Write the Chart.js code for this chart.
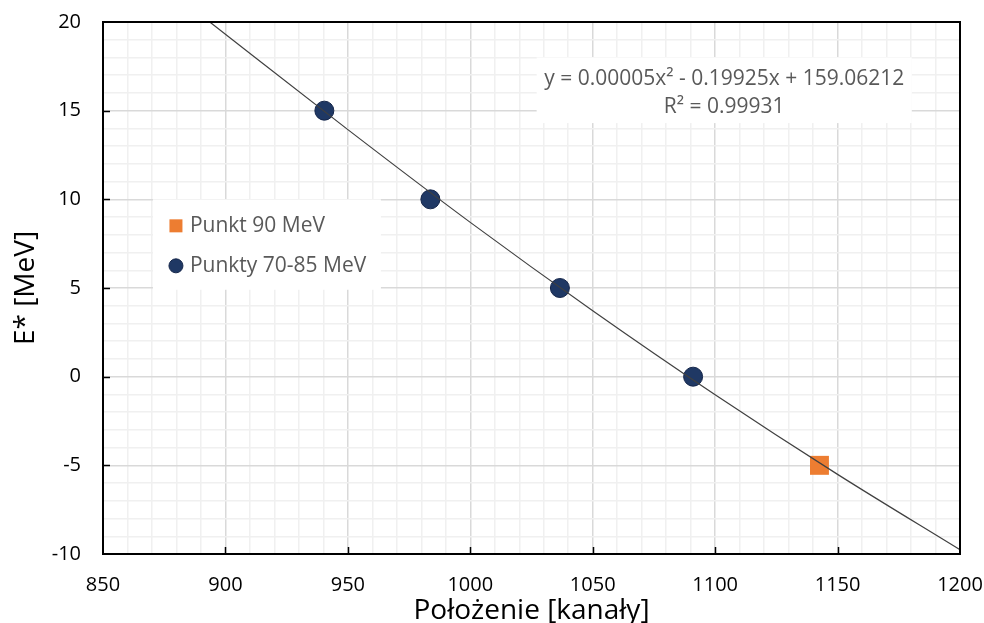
<!DOCTYPE html>
<html>
<head>
<meta charset="utf-8">
<script src="https://cdn.jsdelivr.net/npm/chart.js@4"></script>
<style>
  html, body { margin: 0; padding: 0; background: #fff; overflow: hidden; }
  #wrap { width: 984px; height: 623px; }
</style>
</head>
<body>
<div id="wrap"><canvas id="c" width="984" height="623"></canvas></div>
<script>
// Calibration points: channel position vs excitation energy
const channels7085 = [940.4, 983.7, 1036.6, 1091.0];
const energy7085 = [15, 10, 5, 0];
const channels90 = [1142.6];
const energy90 = [-5];

// Polynomial trendline, sampled along its drawn path
const trendChannels = [893.6, 950, 1000, 1050, 1100, 1150, 1200];
const trendEnergy = [20.0, 13.93, 8.70, 3.72, -1.02, -5.51, -9.76];

// Axis ranges and labelled tick steps
const xRange = [850, 1200];
const yRange = [-10, 20];
const xMajor = 50, xMinor = 10;
const yMajor = 5, yMinor = 1;

const legendLabels = ['Punkt 90 MeV', 'Punkty 70-85 MeV'];
const fitLines = ['y = 0.00005x\u00B2 - 0.19925x + 159.06212', 'R\u00B2 = 0.99931'];

const FONT = '"Open Sans", "Liberation Sans", sans-serif';
const NAVY = '#1f3864';
const ORANGE = '#ed7d31';

const toPts = (xs, ys) => xs.map((x, i) => ({ x, y: ys[i] }));
const isMultiple = (v, m) => Math.abs(v / m - Math.round(v / m)) < 1e-6;

const decorations = {
  id: 'decorations',
  beforeDatasetsDraw(chart) {
    const { ctx } = chart;
    const xs = chart.scales.x, ys = chart.scales.y;
    ctx.save();
    // equation box
    const ex0 = xs.getPixelForValue(1027.1), ex1 = xs.getPixelForValue(1180.3);
    const ey0 = ys.getPixelForValue(18.0), ey1 = ys.getPixelForValue(14.3);
    ctx.fillStyle = '#fff';
    ctx.fillRect(ex0, ey0, ex1 - ex0, ey1 - ey0);
    ctx.fillStyle = '#595959';
    ctx.font = '21px ' + FONT;
    ctx.textAlign = 'center';
    ctx.textBaseline = 'alphabetic';
    const ecx = (ex0 + ex1) / 2;
    ctx.fillText(fitLines[0], ecx, ey0 + 28);
    ctx.fillText(fitLines[1], ecx, ey0 + 56);

    // legend box
    const lx0 = xs.getPixelForValue(870.4), lx1 = xs.getPixelForValue(963.5);
    const ly0 = ys.getPixelForValue(10.0), ly1 = ys.getPixelForValue(4.9);
    ctx.fillStyle = '#fff';
    ctx.fillRect(lx0, ly0, lx1 - lx0, ly1 - ly0);
    ctx.textAlign = 'left';
    ctx.fillStyle = ORANGE;
    ctx.fillRect(lx0 + 16.5, ly0 + 20, 13, 13);
    ctx.fillStyle = '#595959';
    ctx.fillText(legendLabels[0], lx0 + 37, ly0 + 32.5);
    ctx.beginPath();
    ctx.arc(lx0 + 23, ly0 + 66.5, 7, 0, Math.PI * 2);
    ctx.fillStyle = NAVY;
    ctx.fill();
    ctx.lineWidth = 1;
    ctx.strokeStyle = '#15264a';
    ctx.stroke();
    ctx.fillStyle = '#595959';
    ctx.fillText(legendLabels[1], lx0 + 37, ly0 + 72.5);
    ctx.restore();
  },
  afterDraw(chart) {
    const { ctx, chartArea: a } = chart;
    const xs = chart.scales.x, ys = chart.scales.y;
    ctx.save();
    ctx.strokeStyle = '#000';
    ctx.lineWidth = 2;
    ctx.strokeRect(a.left, a.top, a.right - a.left, a.bottom - a.top);
    // inward major tick marks
    ctx.lineWidth = 1.5;
    ctx.beginPath();
    for (let v = xRange[0] + xMajor; v < xRange[1]; v += xMajor) {
      const px = Math.round(xs.getPixelForValue(v)) + 0.5;
      ctx.moveTo(px, a.bottom);
      ctx.lineTo(px, a.bottom - 7);
    }
    for (let v = yRange[0] + yMajor; v < yRange[1]; v += yMajor) {
      const py = Math.round(ys.getPixelForValue(v)) + 0.5;
      ctx.moveTo(a.left, py);
      ctx.lineTo(a.left + 7, py);
    }
    ctx.stroke();
    ctx.restore();
  }
};

new Chart(document.getElementById('c'), {
  type: 'scatter',
  data: {
    datasets: [
      {
        label: 'Trend',
        type: 'line',
        data: toPts(trendChannels, trendEnergy),
        borderColor: '#404040',
        borderWidth: 1.2,
        pointRadius: 0,
        fill: false,
        cubicInterpolationMode: 'monotone',
        order: 0
      },
      {
        label: legendLabels[0],
        data: toPts(channels90, energy90),
        pointStyle: 'rect',
        pointRadius: 13.4,
        pointBackgroundColor: ORANGE,
        pointBorderColor: ORANGE,
        pointBorderWidth: 0,
        order: 1
      },
      {
        label: legendLabels[1],
        data: toPts(channels7085, energy7085),
        pointStyle: 'circle',
        pointRadius: 9.5,
        pointBackgroundColor: NAVY,
        pointBorderColor: '#15264a',
        pointBorderWidth: 1,
        order: 1
      }
    ]
  },
  options: {
    responsive: false,
    animation: false,
    layout: { padding: { left: 12, right: 24, top: 22, bottom: 0 } },
    plugins: { legend: { display: false }, tooltip: { enabled: false } },
    scales: {
      x: {
        type: 'linear',
        min: xRange[0], max: xRange[1],
        afterFit: s => { s.paddingLeft = 0; s.paddingRight = 0; s.height = 69; },
        ticks: {
          stepSize: xMinor,
          autoSkip: false,
          maxTicksLimit: 100,
          maxRotation: 0,
          color: '#000',
          padding: 19,
          font: { family: FONT, size: 20 },
          callback: v => isMultiple(v, xMajor) ? v : ''
        },
        grid: {
          drawTicks: false,
          color: c => isMultiple(c.tick.value, xMajor) ? '#d9d9d9' : '#f0f0f0',
          lineWidth: 1.5
        },
        border: { display: true, color: '#000', width: 2 },
        title: {
          display: true,
          text: 'Położenie [kanały]',
          color: '#000',
          font: { family: FONT, size: 28, lineHeight: 1 },
          padding: { top: 0, bottom: -2 }
        }
      },
      y: {
        type: 'linear',
        min: yRange[0], max: yRange[1],
        afterFit: s => { s.paddingTop = 0; s.paddingBottom = 0; s.width = 91; },
        ticks: {
          stepSize: yMinor,
          autoSkip: false,
          maxTicksLimit: 100,
          color: '#000',
          padding: 22,
          font: { family: FONT, size: 20 },
          callback: v => isMultiple(v, yMajor) ? v : ''
        },
        grid: {
          drawTicks: false,
          color: c => isMultiple(c.tick.value, yMajor) ? '#d9d9d9' : '#f0f0f0',
          lineWidth: 1.5
        },
        border: { display: true, color: '#000', width: 2 },
        title: {
          display: true,
          text: 'E* [MeV]',
          color: '#000',
          font: { family: FONT, size: 28, lineHeight: 1 },
          padding: { top: 0, bottom: 13 }
        }
      }
    }
  },
  plugins: [decorations]
});
</script>
</body>
</html>
